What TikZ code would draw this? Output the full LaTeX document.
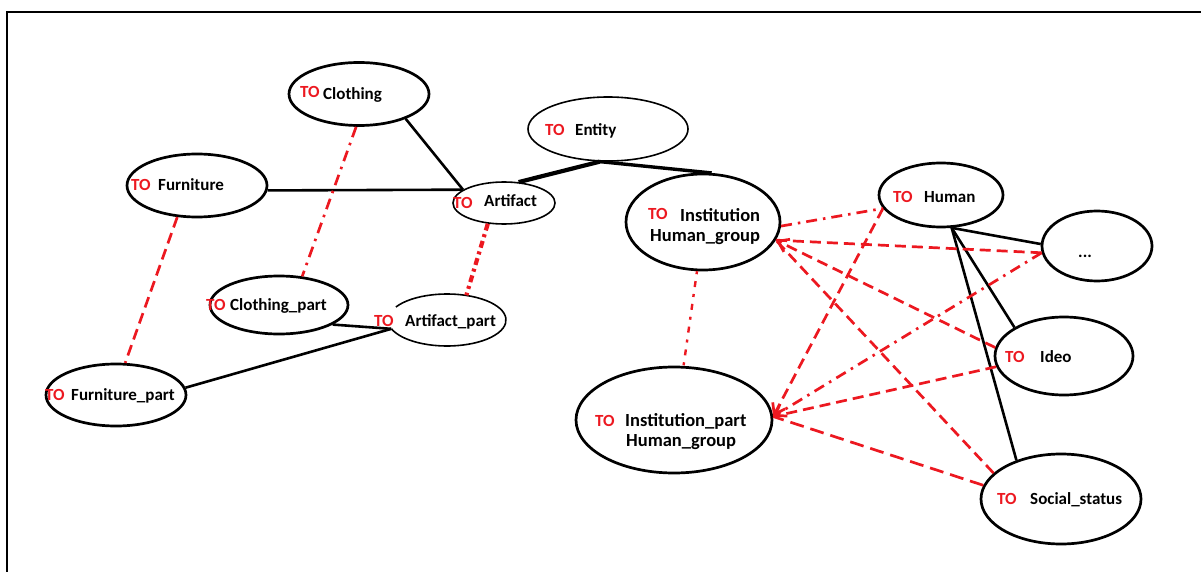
\documentclass[tikz,border=0pt]{standalone}
\usepackage{fontspec}
\setmainfont{Carlito}
\usetikzlibrary{shapes.geometric,arrows.meta}
\definecolor{tored}{RGB}{236,24,32}
\begin{document}
\begin{tikzpicture}[x=1pt,y=1pt,
  concept/.style={ellipse, draw, line width=2.7pt, inner sep=0pt},
  light concept/.style={concept, line width=1.6pt},
  tomark/.style={anchor=base west, inner sep=0pt, text=tored, font=\bfseries\fontsize{17}{20}\selectfont},
  word/.style={anchor=base west, inner sep=0pt, font=\bfseries\fontsize{17}{20}\selectfont},
  bigword/.style={word, font=\bfseries\fontsize{18.5}{22}\selectfont},
  link/.style={line width=2.6pt},
  heavy/.style={line width=4.2pt},
  dashline/.style={tored, line width=2.7pt, dash pattern=on 11pt off 6pt},
  dashdot/.style={tored, line width=2.7pt, dash pattern=on 11pt off 6pt on 2.5pt off 6pt},
  dashdotdot/.style={tored, line width=4.2pt, dash pattern=on 7pt off 4pt on 3pt off 4pt},
  dotdash/.style={tored, line width=2.4pt, dash pattern=on 3pt off 7pt on 6pt off 7pt},
  arr/.style={-{Straight Barb[length=10pt,width=14pt]}}
]
\useasboundingbox (0,0) rectangle (1201,-572);

% frame
\coordinate (fbl) at (7,-572);
\coordinate (ftl) at (7,-12);
\coordinate (ftr) at (1201,-12);
\draw[line width=2pt] (fbl) -- (ftl) -- (ftr);

% concepts
\node[concept, minimum width=140pt, minimum height=63pt] (clo) at (359,-94) {};
\node[light concept, minimum width=160pt, minimum height=64pt] (ent) at (608,-129) {};
\node[concept, minimum width=140pt, minimum height=63pt] (fur) at (197,-185.5) {};
\node[light concept, minimum width=102pt, minimum height=42pt] (art) at (504,-203) {};
\node[concept, minimum width=154pt, minimum height=96pt] (ins) at (703,-222) {};
\node[concept, minimum width=124pt, minimum height=64pt] (hum) at (941,-195) {};
\node[concept, minimum width=110pt, minimum height=70pt] (dots) at (1097,-246) {};
\node[concept, minimum width=138pt, minimum height=58pt] (clp) at (279,-305) {};
\node[ellipse, inner sep=0pt, minimum width=118pt, minimum height=52pt] (arp) at (447,-320) {};
\draw[line width=1.6pt] (arp.center) ++(150:59 and 26)
  arc[start angle=150, end angle=-160, x radius=59, y radius=26];
\node[concept, minimum width=140pt, minimum height=62pt] (fup) at (116,-395) {};
\node[concept, minimum width=196pt, minimum height=106pt] (inp) at (674,-420) {};
\node[concept, minimum width=138pt, minimum height=78pt] (ideo) at (1064,-356) {};
\node[concept, minimum width=160pt, minimum height=90pt] (soc) at (1061,-499) {};

% labels
\node[tomark] (clo-to) at (300,-98) {TO};
\node[word] (clo-w) at (323,-100) {Clothing};
\node[tomark] (ent-to) at (545,-136) {TO};
\node[word] (ent-w) at (575,-136) {Entity};
\node[tomark] (fur-to) at (131,-190) {TO};
\node[word] (fur-w) at (158,-190) {Furniture};
\node[tomark] (art-to) at (453,-208) {TO};
\node[word] (art-w) at (484,-207) {Artifact};
\node[tomark] (ins-to) at (648,-219) {TO};
\node[bigword] (ins-w) at (680,-221) {Institution};
\node[bigword] (ins-w2) at (650,-241) {Human\_group};
\node[tomark] (hum-to) at (893,-203) {TO};
\node[word] (hum-w) at (924,-203) {Human};
\node[word] (dots-w) at (1078,-257) {...};
\node[tomark] (clp-to) at (206,-310) {TO};
\node[word] (clp-w) at (230,-310) {Clothing\_part};
\node[tomark] (arp-to) at (374,-326) {TO};
\node[word] (arp-w) at (405,-326) {Artifact\_part};
\node[tomark] (fup-to) at (45,-400) {TO};
\node[word] (fup-w) at (71,-400) {Furniture\_part};
\node[tomark] (inp-to) at (595,-426) {TO};
\node[bigword] (inp-w) at (625,-426) {Institution\_part};
\node[bigword] (inp-w2) at (626,-446) {Human\_group};
\node[tomark] (ideo-to) at (1005,-362) {TO};
\node[word] (ideo-w) at (1040,-362) {Ideo};
\node[tomark] (soc-to) at (997,-504) {TO};
\node[word] (soc-w) at (1030,-504) {Social\_status};

% solid links
\draw[link] (clo.-28) -- (art.162);
\draw[link] (fur.-4) -- (art.162);
\draw[heavy] (ent.-104) -- (art.55);
\draw[line width=3.4pt] (ent.-104) -- (ins.80);
\draw[link] (clp.-20) -- (arp.189);
\draw[link] (fup.6) -- (arp.189);
\draw[link] (hum.-72) -- (dots.178);
\draw[link] (hum.-72) -- (ideo.150);
\draw[link] (hum.-72) -- (soc.139);

% part-of links
\draw[dashdot] (clo.-95) -- (clp.51);
\draw[dashline] (fur.-122) -- (fup.74);
\draw[dashdotdot] (art.-128) -- (arp.52);
\draw[dotdash] (ins.-97) -- (inp.80);

% relations between the human side and the institutions
\draw[dashdot] (ins.-3) -- (hum.193);
\draw[dashline] (dots.187) -- (ins.-14);
\draw[dashline, arr] (ideo.173) -- (ins.-14);
\draw[dashline] (soc.159) -- (ins.-14);
\draw[dashline, arr] (hum.193) -- (inp.2);
\draw[dashdot, arr] (dots.187) -- (inp.2);
\draw[dashline] (ideo.189) -- (inp.2);
\draw[dashline, dash pattern=on 14pt off 7pt] (soc.170) -- (inp.2);
\end{tikzpicture}
\end{document}
